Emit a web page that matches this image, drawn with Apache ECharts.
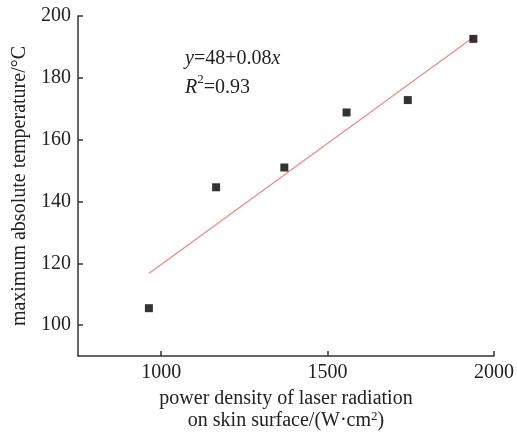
<!DOCTYPE html>
<html>
<head>
<meta charset="utf-8">
<script src="https://cdn.jsdelivr.net/npm/echarts@6/dist/echarts.min.js"></script>
<style>html,body{margin:0;padding:0;background:#fff}#c{width:517px;height:437px}</style>
</head>
<body>
<div id="c"></div>
<script>
// data
var powerDensity = [963, 1165, 1370, 1557, 1741, 1938];
var maxTemp = [105.5, 144.6, 151.0, 168.8, 172.8, 192.6];
var fitX = [963, 1938];
var fitY = [116.7, 193.1];
var xTicks = [1000, 1500, 2000];
var yTicks = [100, 120, 140, 160, 180, 200];

var FONT = "'Liberation Serif','Times New Roman',serif";
var points = powerDensity.map(function (x, i) { return [x, maxTemp[i]]; });
var fit = fitX.map(function (x, i) { return [x, fitY[i]]; });
var plain = function (v) { return String(v); };

var chart = echarts.init(document.getElementById('c'), null, {renderer: 'canvas'});
chart.setOption({
  animation: false,
  backgroundColor: '#fff',
  grid: {left: 78, right: 23, top: 16, bottom: 80, containLabel: false},
  xAxis: {
    type: 'value', min: 750, max: 2000,
    axisLine: {show: true, lineStyle: {color: '#333', width: 1.5}},
    axisTick: {show: true, inside: true, length: 5, customValues: xTicks, lineStyle: {color: '#333', width: 1.5}},
    axisLabel: {customValues: xTicks, formatter: plain, color: '#222', fontFamily: FONT, fontSize: 20, margin: 7},
    splitLine: {show: false},
    name: '{n|power density of laser radiation}\n{n|on skin surface/(W·cm}{s|2}{n|)}',
    nameLocation: 'middle', nameGap: 27,
    nameTextStyle: {
      color: '#222', fontFamily: FONT, fontSize: 20, lineHeight: 22,
      rich: {
        n: {fontFamily: FONT, fontSize: 20, color: '#222', lineHeight: 22},
        s: {fontFamily: FONT, fontSize: 13, color: '#222', verticalAlign: 'top', lineHeight: 16}
      }
    }
  },
  yAxis: {
    type: 'value', min: 90, max: 200,
    axisLine: {show: true, lineStyle: {color: '#333', width: 1.5}},
    axisTick: {show: true, inside: true, length: 5, customValues: yTicks, lineStyle: {color: '#333', width: 1.5}},
    axisLabel: {customValues: yTicks, formatter: plain, color: '#222', fontFamily: FONT, fontSize: 20, margin: 7},
    splitLine: {show: false},
    name: 'maximum absolute temperature/°C',
    nameLocation: 'middle', nameGap: 48, nameRotate: 90,
    nameTextStyle: {color: '#222', fontFamily: FONT, fontSize: 20}
  },
  series: [
    {
      type: 'line', data: fit, symbol: 'none', silent: true,
      lineStyle: {color: '#ee8a8a', width: 1.3}, z: 2
    },
    {
      type: 'scatter', data: points, symbol: 'rect', symbolSize: 8,
      itemStyle: {color: '#000'}, z: 3
    }
  ],
  graphic: [
    {
      type: 'text', left: 185, top: 44,
      style: {
        text: '{i|y}{n|=48+0.08}{i|x}\n{i|R}{s|2}{n|=0.93}',
        fontFamily: FONT, fontSize: 20, fill: '#222', lineHeight: 29,
        rich: {
          i: {fontFamily: FONT, fontSize: 20, fontStyle: 'italic', fill: '#222', lineHeight: 29},
          n: {fontFamily: FONT, fontSize: 20, fill: '#222', lineHeight: 29},
          s: {fontFamily: FONT, fontSize: 13, fill: '#222', verticalAlign: 'top', lineHeight: 21}
        }
      }
    }
  ]
});
</script>
</body>
</html>
